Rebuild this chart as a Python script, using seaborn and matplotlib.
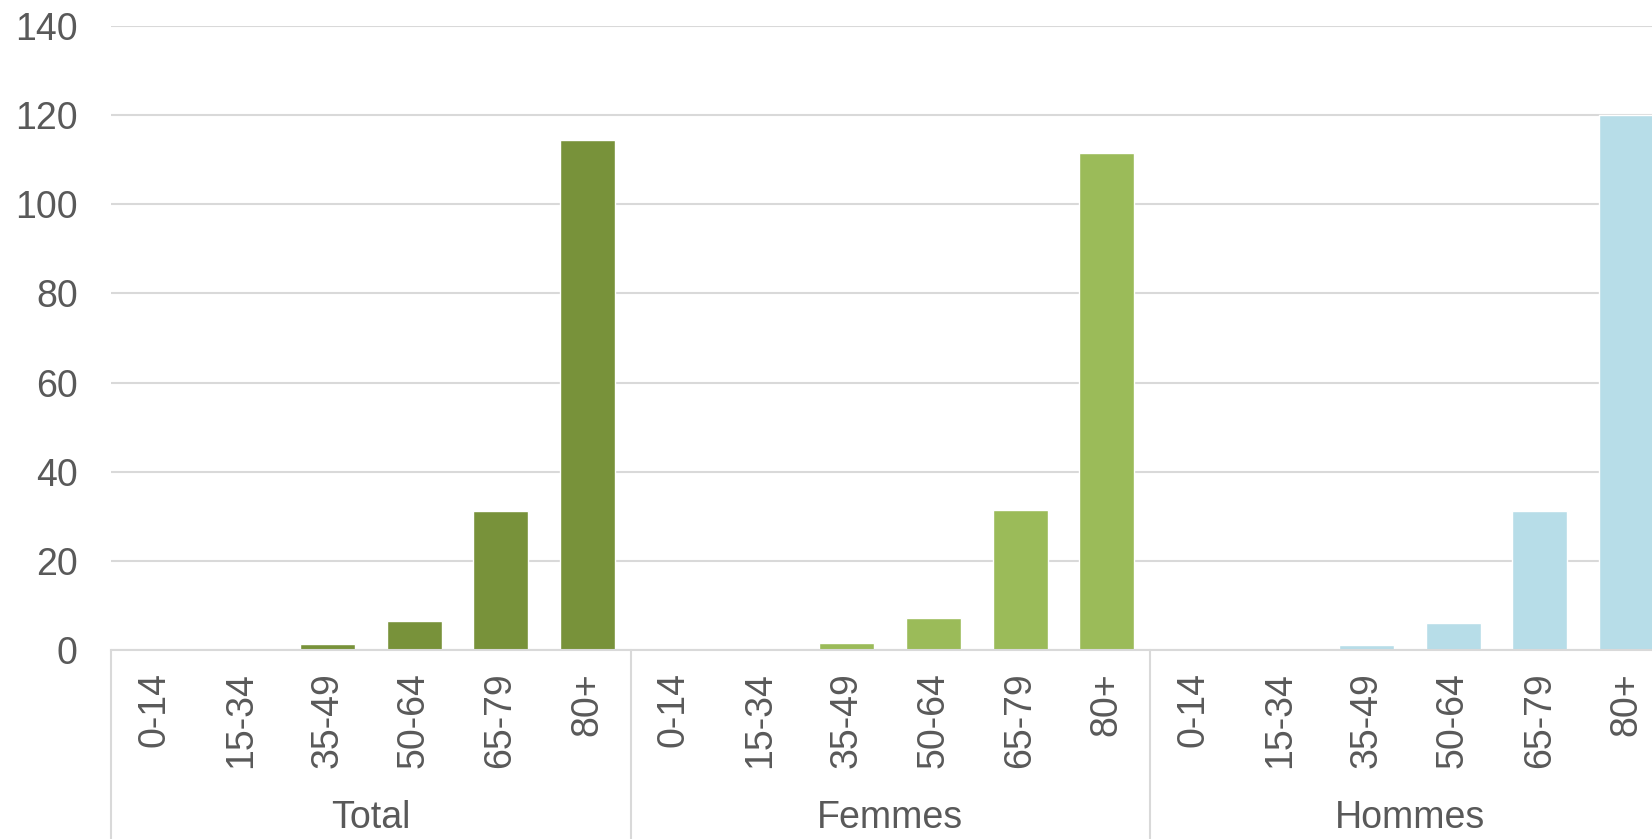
import matplotlib
matplotlib.use("Agg")
import matplotlib.pyplot as plt
import matplotlib.transforms as mtransforms
import seaborn as sns
import pandas as pd

# Age bands and the three population groups
ages = ["0-14", "15-34", "35-49", "50-64", "65-79", "80+"]
groups = ["Total", "Femmes", "Hommes"]
total_values = [0, 0, 1.35, 6.5, 31.2, 114.4]
femmes_values = [0, 0, 1.6, 7.1, 31.4, 111.5]
hommes_values = [0, 0, 1.1, 6.1, 31.2, 120.0]
group_colors = ["#78923A", "#9BBB59", "#B7DDE8"]
y_ticks = [0, 20, 40, 60, 80, 100, 120, 140]

rows = []
for g, vals in zip(groups, [total_values, femmes_values, hommes_values]):
    for a, v in zip(ages, vals):
        rows.append({"group": g, "age": a, "pos": f"{g}|{a}", "value": v})
df = pd.DataFrame(rows)
order = list(df["pos"])

sns.set_theme(style="white")
plt.rcParams["font.family"] = ["Liberation Sans", "DejaVu Sans"]
text_color = "#595959"
grid_color = "#D9D9D9"
fs = 27

fig = plt.figure(figsize=(16.52, 8.39), dpi=100)
ax = fig.add_axes([111 / 1652, 1 - 650 / 839, (1669.5 - 111) / 1652, (650 - 26) / 839])

sns.barplot(data=df, x="pos", y="value", hue="group", order=order,
            hue_order=groups, palette=group_colors, dodge=False,
            width=0.636, saturation=1, legend=False, ax=ax)

ax.set_ylim(0, 140)
ax.set_xlim(-0.5, len(order) - 0.5)
ax.set_yticks(y_ticks)
ax.set_yticklabels([str(t) for t in y_ticks], fontsize=fs, color=text_color)
ax.tick_params(axis="y", length=0, pad=24)
ax.tick_params(axis="x", length=0)
ax.yaxis.grid(True, color=grid_color, linewidth=1.5)
ax.set_axisbelow(True)
for side in ["left", "right", "top"]:
    ax.spines[side].set_visible(False)
ax.spines["bottom"].set_color(grid_color)
ax.spines["bottom"].set_linewidth(1.5)
ax.set_xlabel("")
ax.set_ylabel("")

# Age labels, rotated, below each bar
ax.set_xticks(range(len(order)))
ax.set_xticklabels([])
trans = mtransforms.blended_transform_factory(ax.transData, ax.transAxes)
axes_h = 624.0
for i, p in enumerate(order):
    ax.text(i, -22 / axes_h, p.split("|")[1], rotation=90, ha="center", va="top",
            fontsize=fs, color=text_color, transform=trans, clip_on=False)

# Group separators and group names
n = len(ages)
for k, g in enumerate(groups):
    x0 = k * n - 0.5
    ax.plot([x0, x0], [0, -200 / axes_h], color=grid_color, linewidth=1.5,
            transform=trans, clip_on=False)
    ax.text(k * n + (n - 1) / 2, -168 / axes_h, g, ha="center", va="center",
            fontsize=fs, color=text_color, transform=trans, clip_on=False)

fig.savefig("out.png", dpi=100)
